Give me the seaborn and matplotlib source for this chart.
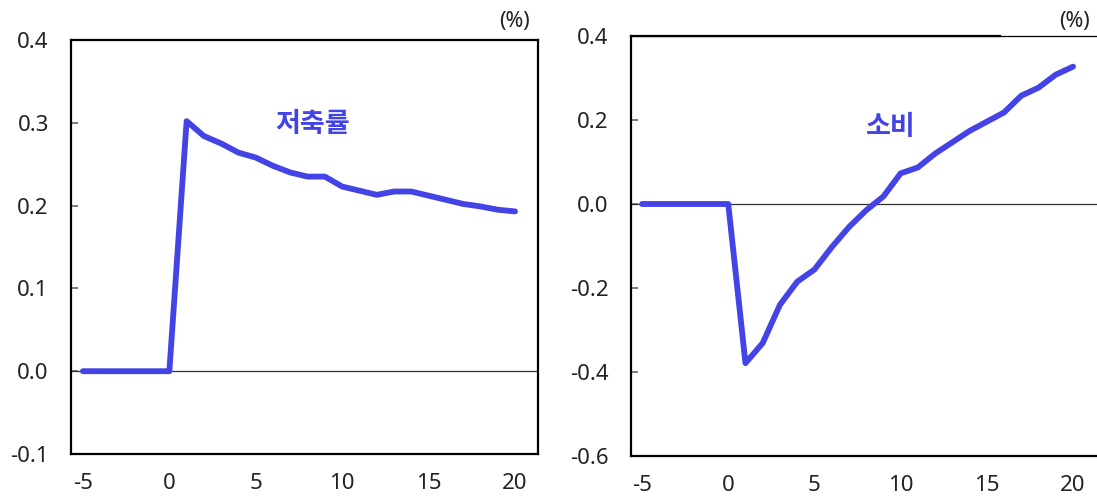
import matplotlib
matplotlib.use("Agg")
import matplotlib.pyplot as plt
import seaborn as sns

# horizon (quarters) and impulse responses
horizon = [-5, -4, -3, -2, -1, 0, 1, 2, 3, 4, 5, 6, 7, 8, 9, 10,
           11, 12, 13, 14, 15, 16, 17, 18, 19, 20]
saving_rate = [0.0, 0.0, 0.0, 0.0, 0.0, 0.0, 0.302, 0.284, 0.275, 0.264,
               0.258, 0.248, 0.240, 0.235, 0.235, 0.223, 0.218, 0.213,
               0.217, 0.217, 0.212, 0.207, 0.202, 0.199, 0.195, 0.193]
consumption = [0.0, 0.0, 0.0, 0.0, 0.0, 0.0, -0.379, -0.331, -0.240, -0.185,
               -0.156, -0.103, -0.055, -0.015, 0.018, 0.073, 0.087, 0.120,
               0.147, 0.174, 0.196, 0.218, 0.258, 0.277, 0.308, 0.327]

x_ticks = [-5, 0, 5, 10, 15, 20]
left_yticks = [-0.1, 0.0, 0.1, 0.2, 0.3, 0.4]
right_yticks = [-0.6, -0.4, -0.2, 0.0, 0.2, 0.4]
left_label = "저축률"
right_label = "소비"
unit = "(%)"

sns.set_style("white")
plt.rcParams["font.family"] = ["Noto Sans", "Noto Sans CJK KR", "DejaVu Sans"]

line_color = "#4343E6"
text_color = "#222222"
W, H = 1097, 497
fig = plt.figure(figsize=(W / 100, H / 100), dpi=100)

# axes boxes in pixels: left, top, right, bottom
ax1 = fig.add_axes([71 / W, (H - 454) / H, (538 - 71) / W, (454 - 40) / H])
ax2 = fig.add_axes([631 / W, (H - 456) / H, (1097 - 631) / W, (456 - 36) / H])


def style_axis(ax, yticks, xlim):
    ax.set_xlim(*xlim)
    ax.set_ylim(yticks[0], yticks[-1])
    ax.set_xticks(x_ticks)
    ax.set_xticklabels([str(t) for t in x_ticks])
    ax.set_yticks(yticks)
    ax.set_yticklabels([f"{v:.1f}" for v in yticks])
    ax.tick_params(axis="y", direction="in", length=5, width=1.2,
                   color="#666666", labelsize=16, pad=16, left=True,
                   labelcolor=text_color)
    ax.tick_params(axis="x", length=0, labelsize=16, pad=14, bottom=False,
                   labelcolor=text_color)
    for s in ax.spines.values():
        s.set_color("black")
        s.set_linewidth(1.6)
    ax.axhline(0, color="#333333", linewidth=0.9, zorder=1)
    ax.set_xlabel("")
    ax.set_ylabel("")


# left panel: saving rate
sns.lineplot(x=horizon, y=saving_rate, ax=ax1, color=line_color,
             linewidth=4.2, solid_capstyle="round", zorder=3)
style_axis(ax1, left_yticks, (-5.69, 21.33))
ax1.text(8.3, 0.299, left_label, color=line_color, fontsize=19.5,
         fontweight="bold", ha="center", va="center",
         family=["Noto Sans CJK KR"])
ax1.text(515 / W, (H - 22) / H, unit, transform=fig.transFigure, fontsize=15.5,
         ha="center", va="center", color=text_color)

# right panel: consumption
sns.lineplot(x=horizon, y=consumption, ax=ax2, color=line_color,
             linewidth=4.2, solid_capstyle="round", zorder=3)
style_axis(ax2, right_yticks, (-5.64, 21.39))
ax2.spines["right"].set_visible(False)
ax2.spines["top"].set_bounds(-5.64, 15.75)
ax2.axhline(right_yticks[-1], color="black", linewidth=0.9, clip_on=False)
ax2.text(9.4, 0.183, right_label, color=line_color, fontsize=19.5,
         fontweight="bold", ha="center", va="center",
         family=["Noto Sans CJK KR"])
ax2.text(1074 / W, (H - 21) / H, unit, transform=fig.transFigure, fontsize=15.5,
         ha="center", va="center", color=text_color)

fig.savefig("out.png", dpi=100)
